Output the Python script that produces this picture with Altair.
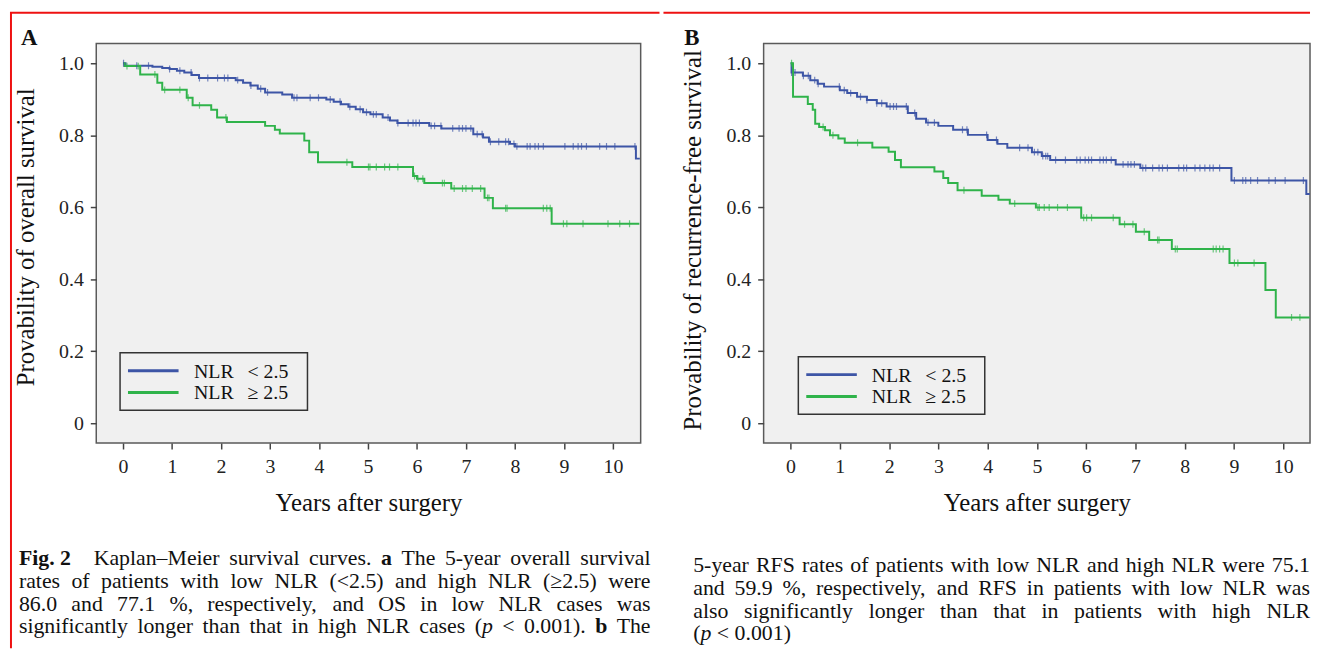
import bisect
import altair as alt
import pandas as pd

FONT = "Liberation Serif"
BLUE = "#3D55A6"
GREEN = "#2FB34A"
RED = "#EE1111"
LOW = "NLR < 2.5"
HIGH = "NLR \u2265 2.5"

# ---------------- Panel A: overall survival ----------------
os_low_t = [0, 0.05, 0.6, 0.8, 0.95, 1.1, 1.25, 1.4, 1.55, 2.3, 2.45, 2.6, 2.75, 2.9, 3.25, 3.45,
            4.15, 4.3, 4.45, 4.6, 4.75, 4.9, 5.05, 5.3, 5.45, 5.6, 6.25, 6.5, 7.15, 7.35, 7.47,
            7.9, 8.0, 10.47, 10.55]
os_low_s = [1.0, 0.993, 0.990, 0.987, 0.984, 0.979, 0.974, 0.967, 0.959, 0.953, 0.946, 0.938,
            0.929, 0.919, 0.913, 0.904, 0.899, 0.893, 0.886, 0.879, 0.872, 0.864, 0.858, 0.849,
            0.841, 0.834, 0.826, 0.819, 0.803, 0.794, 0.782, 0.776, 0.769, 0.735, 0.735]
os_high_t = [0, 0.03, 0.35, 0.7, 0.8, 1.3, 1.42, 1.8, 1.92, 2.12, 2.9, 3.1, 3.2, 3.7, 3.8, 3.98,
             4.68, 5.92, 6.0, 6.15, 6.7, 7.38, 7.55, 8.75, 10.54]
os_high_s = [1.0, 0.992, 0.969, 0.946, 0.926, 0.904, 0.883, 0.871, 0.849, 0.837, 0.826, 0.815,
             0.805, 0.785, 0.753, 0.725, 0.712, 0.687, 0.679, 0.667, 0.652, 0.626, 0.597, 0.554,
             0.554]
os_low_cens = [0.01, 0.28, 0.52, 0.95, 1.16, 1.39, 1.56, 1.73, 1.93, 2.07, 2.14, 2.34, 2.61, 2.81,
               2.95, 3.49, 3.55, 3.82, 3.99, 4.23, 4.43, 4.63, 4.84, 4.97, 5.11, 5.17, 5.41, 5.61,
               5.82, 5.92, 5.98, 6.05, 6.29, 6.36, 6.49, 6.73, 6.86, 6.93, 7.0, 7.1, 7.23, 7.33,
               7.5, 7.67, 7.81, 7.87, 7.98, 8.04, 8.25, 8.31, 8.41, 8.48, 8.58, 9.02, 9.19, 9.29,
               9.36, 9.46, 9.73, 9.87, 10.04, 10.45]
os_high_cens = [0.08, 0.31, 0.65, 0.85, 1.16, 1.33, 1.56, 2.10, 4.57, 5.01, 5.04, 5.17, 5.34, 5.44,
                5.61, 5.95, 6.02, 6.12, 6.52, 6.56, 6.76, 6.93, 7.0, 7.13, 7.3, 7.44, 7.47, 7.81,
                7.84, 8.58, 8.65, 8.72, 8.99, 9.06, 9.39, 9.9, 10.14, 10.34]

# ---------------- Panel B: recurrence-free survival ----------------
rfs_low_t = [0, 0.02, 0.25, 0.4, 0.55, 0.68, 1.0, 1.15, 1.35, 1.55, 1.75, 1.95, 2.38, 2.55, 2.75,
             3.0, 3.3, 3.6, 4.0, 4.2, 4.4, 4.9, 5.1, 5.27, 6.6, 7.1, 8.95, 10.47, 10.54]
rfs_low_s = [1.0, 0.974, 0.965, 0.953, 0.943, 0.935, 0.925, 0.917, 0.907, 0.898, 0.889, 0.880,
             0.862, 0.846, 0.835, 0.826, 0.815, 0.801, 0.787, 0.776, 0.765, 0.753, 0.742, 0.731,
             0.719, 0.709, 0.674, 0.637, 0.637]
rfs_high_t = [0, 0.05, 0.35, 0.45, 0.5, 0.58, 0.7, 0.8, 0.97, 1.1, 1.66, 1.99, 2.12, 2.24, 2.92,
              3.1, 3.2, 3.39, 3.88, 4.22, 4.45, 4.98, 5.9, 6.68, 7.01, 7.28, 7.74, 8.91, 9.64,
              9.85, 10.54]
rfs_high_s = [1.0, 0.907, 0.887, 0.871, 0.832, 0.823, 0.814, 0.800, 0.791, 0.779, 0.766, 0.754,
              0.731, 0.711, 0.699, 0.681, 0.667, 0.647, 0.632, 0.621, 0.610, 0.599, 0.571, 0.553,
              0.532, 0.509, 0.484, 0.445, 0.370, 0.294, 0.294]
rfs_low_cens = [0.02, 0.09, 0.26, 0.36, 0.49, 0.56, 0.99, 1.09, 1.22, 1.42, 1.55, 1.75, 1.85, 2.02,
                2.09, 2.15, 2.35, 2.52, 2.79, 2.92, 3.49, 3.58, 3.98, 4.18, 4.65, 4.82, 4.95, 5.02,
                5.12, 5.18, 5.22, 5.38, 5.58, 5.81, 5.88, 5.98, 6.05, 6.11, 6.28, 6.35, 6.41, 6.51,
                6.75, 6.85, 6.91, 6.98, 7.15, 7.21, 7.35, 7.48, 7.55, 7.65, 7.88, 7.98, 8.04, 8.21,
                8.31, 8.41, 8.51, 8.58, 8.71, 9.01, 9.18, 9.24, 9.34, 9.48, 9.71, 9.84, 10.04, 10.41]
rfs_high_cens = [0.02, 0.66, 0.86, 1.36, 3.52, 4.55, 5.02, 5.05, 5.15, 5.25, 5.42, 5.62, 5.95, 6.01,
                 6.11, 6.55, 6.78, 6.95, 7.18, 7.45, 7.48, 7.81, 7.85, 8.58, 8.64, 8.71, 8.78, 9.01,
                 9.08, 9.41, 10.17, 10.34]

x_ticks = list(range(0, 11))
y_ticks = [0, 0.2, 0.4, 0.6, 0.8, 1.0]
x_title = "Years after surgery"
y_title_a = "Provability of overall survival"
y_title_b = "Provability of recurrence-free survival"

caption_a = [
    [[("Fig. 2", "b")], "Kaplan\u2013Meier", "survival", "curves.", [("a", "b")], "The", "5-year",
     "overall", "survival"],
    "rates of patients with low NLR (<2.5) and high NLR (\u22652.5) were".split(" "),
    "86.0 and 77.1 %, respectively, and OS in low NLR cases was".split(" "),
    "significantly longer than that in high NLR cases".split(" ")
    + [[("(", "n"), ("p", "i")], "<", "0.001).", [("b", "b")], "The"],
]
caption_b = [
    "5-year RFS rates of patients with low NLR and high NLR were 75.1".split(" "),
    "and 59.9 %, respectively, and RFS in patients with low NLR was".split(" "),
    "also significantly longer than that in patients with high NLR".split(" "),
    [[("(", "n"), ("p", "i")], "<", "0.001)"],
]

# ---------------- layout constants (pixels) ----------------
PH = 403
XDOM_A = [-0.547, 10.567]
XDOM_B = [-0.547, 10.545]
YDOM = [-0.055, 1.055]
WA, WB = 549, 551
OA, OB = (95, 40), (760, 40)
CFS = 22
CAP_BASE_A = [566, 589, 612, 635]
CAP_BASE_B = [573, 596, 619, 642]

REG = {' ': 250, 'a': 444, 'b': 500, 'c': 444, 'd': 500, 'e': 444, 'f': 333, 'g': 500, 'h': 500,
       'i': 278, 'j': 278, 'k': 500, 'l': 278, 'm': 778, 'n': 500, 'o': 500, 'p': 500, 'q': 500,
       'r': 333, 's': 389, 't': 278, 'u': 500, 'v': 500, 'w': 722, 'x': 500, 'y': 500, 'z': 444,
       'A': 722, 'B': 667, 'C': 667, 'D': 722, 'E': 611, 'F': 556, 'K': 722, 'L': 611, 'M': 889,
       'N': 722, 'O': 722, 'R': 667, 'S': 556, 'T': 611, '.': 250, ',': 250, '%': 833, '(': 333,
       ')': 333, '-': 333, '\u2013': 500, '<': 564, '\u2265': 549}
BOLD = {'F': 611, 'i': 278, 'g': 500, '.': 250, ' ': 250, '2': 500, 'a': 500, 'b': 556}


def seg_w(text, style):
    tab = BOLD if style == "b" else REG
    return sum(tab.get(c, REG.get(c, 500)) for c in text) / 1000.0 * CFS


def layout_caption(lines, left, right, justify_last, bases):
    rows = []
    for li, line in enumerate(lines):
        words = [w if isinstance(w, list) else [(w, "n")] for w in line]
        widths = [sum(seg_w(t, s) for t, s in w) for w in words]
        extra = 0.6 * CFS if words[0][0][0].startswith("Fig") else 0.0
        just = li < len(lines) - 1 or justify_last
        if just and len(words) > 1:
            gap = (right - left - sum(widths) - extra) / (len(words) - 1)
        else:
            gap = 0.25 * CFS
        x = left
        for wi, w in enumerate(words):
            xx = x
            for t, s in w:
                rows.append({"px": xx, "py": bases[li], "text": t, "style": s})
                xx += seg_w(t, s)
            x += widths[wi] + gap + (extra if wi == 0 else 0)
    return rows


def step_at(ts, ss, c):
    return ss[max(bisect.bisect_right(ts, c) - 1, 0)]


one = pd.DataFrame({"k": [0]})


def vtext(txt, x, y, size, **kw):
    return alt.Chart(one).mark_text(font=FONT, fontSize=size, align="left", baseline="alphabetic",
                                    color="#111", **kw).encode(
        x=alt.value(x), y=alt.value(y), text=alt.value(txt))


def panel(label, ytitle, origin, w, xdom, low_t, low_s, high_t, high_s, low_c, high_c,
          leg, cap_lines, cap_lr, justify_last, bases, red_top, red_left, ytpad, ytitle_y, lab_x):
    ox, oy = origin
    curves = pd.DataFrame({"t": low_t + high_t, "s": low_s + high_s,
                           "grp": [LOW] * len(low_t) + [HIGH] * len(high_t)})
    cens = pd.DataFrame({
        "t": low_c + high_c,
        "s": [step_at(low_t, low_s, c) for c in low_c] + [step_at(high_t, high_s, c) for c in high_c],
        "grp": [LOW] * len(low_c) + [HIGH] * len(high_c)})

    xs = alt.Scale(domain=xdom, nice=False, zero=False)
    ys = alt.Scale(domain=YDOM, nice=False, zero=False)
    xax = alt.Axis(values=x_ticks, title=x_title, grid=False, domain=False, tickSize=6,
                   tickWidth=1.5, tickColor="#444", labelPadding=8, labelFontSize=20,
                   labelFont=FONT, titleFont=FONT, titleFontWeight="normal", labelColor="#222",
                   titleColor="#111", titleFontSize=25, titlePadding=14, labelFlush=False)
    yax = alt.Axis(values=y_ticks, title=ytitle, grid=False, domain=False, tickSize=6,
                   tickWidth=1.5, tickColor="#444", labelPadding=7, labelFontSize=20,
                   labelFont=FONT, titleFont=FONT, titleFontWeight="normal", labelColor="#222",
                   titleColor="#111", titleFontSize=25, titlePadding=ytpad, titleY=ytitle_y,
                   labelExpr="datum.value == 0 ? '0' : format(datum.value, '.1f')")
    X = alt.X("t:Q", scale=xs, axis=xax)
    Y = alt.Y("s:Q", scale=ys, axis=yax)
    col = alt.Color("grp:N", scale=alt.Scale(domain=[LOW, HIGH], range=[BLUE, GREEN]), legend=None)

    lines = alt.Chart(curves).mark_line(interpolate="step-after", strokeWidth=2, clip=True).encode(
        x=X, y=Y, color=col, detail="grp:N")
    ticks = alt.Chart(cens).mark_tick(orient="vertical", size=7, thickness=1.2, opacity=0.7,
                                      clip=True).encode(x=X, y=Y, color=col)

    # caption, positioned in page pixels converted to this panel's data space
    rows = layout_caption(cap_lines, cap_lr[0], cap_lr[1], justify_last, bases)
    cap = pd.DataFrame(rows)
    cap["t"] = xdom[0] + (cap["px"] - ox) * (xdom[1] - xdom[0]) / w
    cap["s"] = YDOM[1] - (cap["py"] - oy) * (YDOM[1] - YDOM[0]) / PH
    cap_layers = []
    for style, kw in (("n", {}), ("b", {"fontWeight": "bold"}), ("i", {"fontStyle": "italic"})):
        sub = cap[cap["style"] == style]
        if len(sub):
            cap_layers.append(alt.Chart(sub).mark_text(font=FONT, fontSize=CFS, align="left",
                                                        baseline="alphabetic", color="#111", **kw)
                              .encode(x=X, y=Y, text="text:N"))

    bx0, bx1, by0, by1, sx0, sx1, ly1, ly2, tx1, tx2 = leg
    box = alt.Chart(one).mark_rect(fill="#F0F0F0", stroke="#333", strokeWidth=1.5).encode(
        x=alt.value(bx0), x2=alt.value(bx1), y=alt.value(by0), y2=alt.value(by1))
    l1 = alt.Chart(one).mark_rule(color=BLUE, strokeWidth=3).encode(
        x=alt.value(sx0), x2=alt.value(sx1), y=alt.value(ly1))
    l2 = alt.Chart(one).mark_rule(color=GREEN, strokeWidth=3).encode(
        x=alt.value(sx0), x2=alt.value(sx1), y=alt.value(ly2))
    legend_layers = [box, l1, l2,
                     vtext("NLR", tx1, ly1 + 7, 20), vtext("< 2.5", tx2, ly1 + 7, 20),
                     vtext("NLR", tx1, ly2 + 7, 20), vtext("\u2265 2.5", tx2, ly2 + 7, 20)]

    lab = vtext(label, lab_x, 2, 23, fontWeight="bold")
    red = [alt.Chart(one).mark_rule(color=RED, strokeWidth=2).encode(
        x=alt.value(red_top[0]), x2=alt.value(red_top[1]), y=alt.value(-31))]
    if red_left is not None:
        red.append(alt.Chart(one).mark_rule(color=RED, strokeWidth=2).encode(
            x=alt.value(red_left), y=alt.value(-31), y2=alt.value(610)))

    return alt.layer(lines, ticks, *legend_layers, *cap_layers, lab, *red).properties(
        width=w, height=PH)


pa = panel("A", y_title_a, OA, WA, XDOM_A, os_low_t, os_low_s, os_high_t, os_high_s,
           os_low_cens, os_high_cens,
           (24, 213, 312, 370, 32, 83, 330, 352, 98.6, 152.5),
           caption_a, (17, 654), True, CAP_BASE_A, (-87, 568), -86, 20, 195, -76)
pb = panel("B", y_title_b, OB, WB, XDOM_B, rfs_low_t, rfs_low_s, rfs_high_t, rfs_high_s,
           rfs_low_cens, rfs_high_cens,
           (35, 223, 316, 374, 43, 94, 334, 356, 109, 163),
           caption_b, (689, 1311), False, CAP_BASE_B, (-101, 551), None, 21, 198, -80)

chart = alt.hconcat(pa, pb, spacing=0).properties(
    padding=0, background="white"
).configure_view(
    fill="#F0F0F0", stroke="#5a5a5a", strokeWidth=1.5
).configure_axis(
    labelFont=FONT, titleFont=FONT, labelColor="#222", titleColor="#111", titleFontWeight="normal"
)

chart.save("out.html", embed_options={"renderer": "svg", "actions": False})
